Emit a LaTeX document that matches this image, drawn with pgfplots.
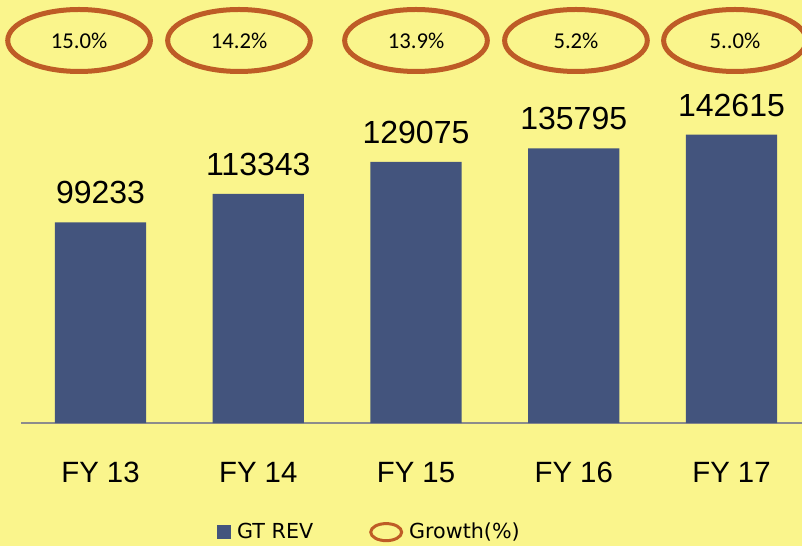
\documentclass[border=0pt]{standalone}
\usepackage{pgfplots}
\pgfplotsset{compat=1.18}
\usepackage{fontspec}
\setmainfont{Liberation Sans}
\newfontfamily\calibri{Carlito}
\newfontfamily\tahoma{DejaVu Sans}
\usetikzlibrary{shapes.geometric}

\definecolor{bgyellow}{RGB}{250,245,140}
\definecolor{barblue}{RGB}{67,84,125}
\definecolor{growthc}{RGB}{190,92,38}
\definecolor{axisgray}{RGB}{140,140,140}

\pgfplotstableread{
x y label
0 99233 99233
1 113343 113343
2 129075 129075
3 135795 135795
4 142615 142615
}\revtable

\begin{document}
\begin{tikzpicture}
\path[use as bounding box] (0,0) rectangle (601.5pt,409.5pt);
\clip (0,0) rectangle (601.5pt,409.5pt);
\fill[bgyellow] (0,0) rectangle (601.5pt,409.5pt);
\begin{axis}[
  at={(15.75pt,92.25pt)}, anchor=south west,
  scale only axis, width=592.5pt, height=317.25pt,
  xmin=-0.504, xmax=4.504, ymin=0, ymax=209170,
  axis x line*=bottom, axis y line=none,
  axis line style={axisgray, line width=1.5pt},
  xtick={0,1,2,3,4},
  xticklabels={FY 13,FY 14,FY 15,FY 16,FY 17},
  major tick length=0pt,
  xticklabel style={font=\fontsize{22}{26}\selectfont, anchor=base, yshift=-44.25pt},
  clip=false,
  legend columns=-1,
  legend style={draw=none, fill=none, inner sep=0pt,
    font=\tahoma\fontsize{15.5}{19}\selectfont,
    nodes={inner sep=2pt},
    at={(0.248,-0.258)}, anchor=west,
    /tikz/every odd column/.append style={column sep=2.5pt},
    /tikz/every even column/.append style={column sep=40pt}},
]
\addplot[ybar, bar width=0.577, fill=barblue, draw=none,
  nodes near coords, point meta=explicit symbolic,
  every node near coord/.append style={font=\fontsize{24}{28}\selectfont, inner sep=0pt, yshift=13.5pt, text=black},
  legend image code/.code={\fill[barblue] (0pt,-5.25pt) rectangle (10.5pt,5.25pt);}]
  table[x=x, y=y, meta=label] {\revtable};
\addlegendentry{GT REV}
\addplot[only marks, mark=none,
  nodes near coords, point meta=explicit symbolic,
  every node near coord/.append style={anchor=center, ellipse, draw=growthc,
    line width=3.75pt, minimum width=107pt, minimum height=46.5pt, inner sep=0pt,
    font=\calibri\fontsize{17}{20}\selectfont, text=black},
  legend image code/.code={\draw[growthc, line width=2.25pt] (11.6pt,0pt) ellipse (11.6pt and 6.4pt);}]
  coordinates {(-0.136,189146) [15.0\%] (0.878,189146) [14.2\%] (2.0,189146) [13.9\%]
               (3.014,189146) [5.2\%] (4.022,189146) [5..0\%]};
\addlegendentry{Growth(\%)}
\end{axis}
\end{tikzpicture}
\end{document}
